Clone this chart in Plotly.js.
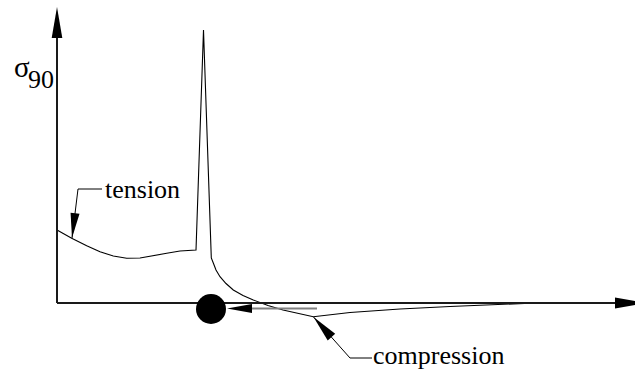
<!DOCTYPE html>
<html>
<head>
<meta charset="utf-8">
<script src="https://cdn.plot.ly/plotly-3.0.1.min.js"></script>
<style>html,body{margin:0;padding:0;background:#fff;}#chart{width:635px;height:371px;}</style>
</head>
<body>
<div id="chart"></div>
<script>
// Position along the section (arbitrary units) and the transverse stress sigma_90
const position = [0, 1.47, 2.97, 4.3, 5.63, 6.97, 8.3, 9.63, 10.97, 12.3, 13.9,
  14.65,
  15.37, 15.43, 15.63, 15.9, 16.3, 16.9, 17.63, 18.6, 19.63, 21.1, 22.6, 24.1, 25.63,
  29.3, 34.3, 39.3, 44.3, 47.3, 55.3];
const sigma90 = [7.3, 6.47, 5.73, 5.13, 4.7, 4.47, 4.5, 4.7, 4.97, 5.2, 5.3,
  27.3,
  5.1, 4.5, 4.0, 3.3, 2.63, 1.95, 1.3, 0.75, 0.3, -0.25, -0.7, -1.05, -1.37,
  -0.95, -0.6, -0.35, -0.1, -0.02, 0];

// Axis extents
const xAxisEnd = 56.0, yAxisEnd = 26.5;
// Annotation anchor points
const tensionTip = [1.5, 6.5], tensionElbow = [2.1, 11.4], tensionTextPos = [4.5, 11.4];
const compTip = [25.65, -1.4], compElbow = [29.3, -5.5], compTextPos = [31.5, -5.5];
const loadCenter = [15.4, -0.6], loadRadius = 1.5;
const loadArrowTip = [17.0, -0.55], loadArrowTail = [26.0, -0.55];

function head(tip, from, len, hw) {
  const dx = tip[0] - from[0], dy = tip[1] - from[1];
  const d = Math.hypot(dx, dy), ux = dx / d, uy = dy / d;
  const bx = tip[0] - ux * len, by = tip[1] - uy * len;
  const px = -uy * hw, py = ux * hw;
  return {type: 'path', xref: 'x', yref: 'y', layer: 'above',
    path: `M${tip[0]},${tip[1]} L${bx + px},${by + py} L${bx - px},${by - py} Z`,
    fillcolor: '#000', line: {width: 0}};
}
function seg(a, b, color, w) {
  return {type: 'line', xref: 'x', yref: 'y', x0: a[0], y0: a[1], x1: b[0], y1: b[1],
    line: {color: color, width: w}, layer: 'above'};
}

const traces = [
  {x: position, y: sigma90, mode: 'lines', type: 'scatter',
   line: {color: '#000', width: 1.1}, hoverinfo: 'skip'},
  {x: [tensionTextPos[0], tensionElbow[0], tensionTip[0]],
   y: [tensionTextPos[1], tensionElbow[1], tensionTip[1]],
   mode: 'lines', line: {color: '#000', width: 1}, hoverinfo: 'skip'},
  {x: [compTextPos[0], compElbow[0], compTip[0]],
   y: [compTextPos[1], compElbow[1], compTip[1]],
   mode: 'lines', line: {color: '#000', width: 1}, hoverinfo: 'skip'}
];

const shapes = [
  seg([0, 0], [xAxisEnd, 0], '#1a1a1a', 2),
  seg([0, 0], [0, yAxisEnd], '#1a1a1a', 2),
  head([0, 29.6], [0, 0], 3.1, 0.53),
  head([58.9, 0], [0, 0], 3.1, 0.55),
  head(tensionTip, tensionElbow, 2.5, 0.45),
  head(compTip, compElbow, 2.7, 0.5),
  seg([loadArrowTip[0] + 2.4, loadArrowTip[1]], loadArrowTail, '#808080', 2),
  head(loadArrowTip, loadArrowTail, 2.5, 0.45),
  {type: 'circle', xref: 'x', yref: 'y', x0: loadCenter[0] - loadRadius, x1: loadCenter[0] + loadRadius,
   y0: loadCenter[1] - loadRadius, y1: loadCenter[1] + loadRadius, fillcolor: '#000', line: {width: 0}, layer: 'above'}
];

const serif = "'Liberation Serif', 'Times New Roman', 'DejaVu Serif', serif";
const annotations = [
  {x: tensionTextPos[0] + 0.1, y: tensionTextPos[1], xref: 'x', yref: 'y', text: 'tension', showarrow: false,
   xanchor: 'left', yanchor: 'middle', font: {family: serif, size: 26, color: '#000'}},
  {x: compTextPos[0] - 0.1, y: compTextPos[1] + 0.3, xref: 'x', yref: 'y', text: 'compression', showarrow: false,
   xanchor: 'left', yanchor: 'middle', font: {family: serif, size: 26, color: '#000'}},
  {x: -3.55, y: 23.6, xref: 'x', yref: 'y', text: 'σ', showarrow: false,
   xanchor: 'center', yanchor: 'middle', font: {family: serif, size: 29, color: '#000'}},
  {x: -1.6, y: 22.4, xref: 'x', yref: 'y', text: '90', showarrow: false,
   xanchor: 'center', yanchor: 'middle', font: {family: serif, size: 26, color: '#000'}}
];

const layout = {
  width: 635, height: 371,
  margin: {l: 0, r: 0, t: 0, b: 0},
  paper_bgcolor: '#fff', plot_bgcolor: '#fff',
  showlegend: false,
  font: {family: serif},
  xaxis: {range: [-5.7, 57.8], visible: false, fixedrange: true},
  yaxis: {range: [-6.8, 30.3], visible: false, fixedrange: true},
  shapes: shapes,
  annotations: annotations
};

Plotly.newPlot('chart', traces, layout, {staticPlot: true, displayModeBar: false});
</script>
</body>
</html>
